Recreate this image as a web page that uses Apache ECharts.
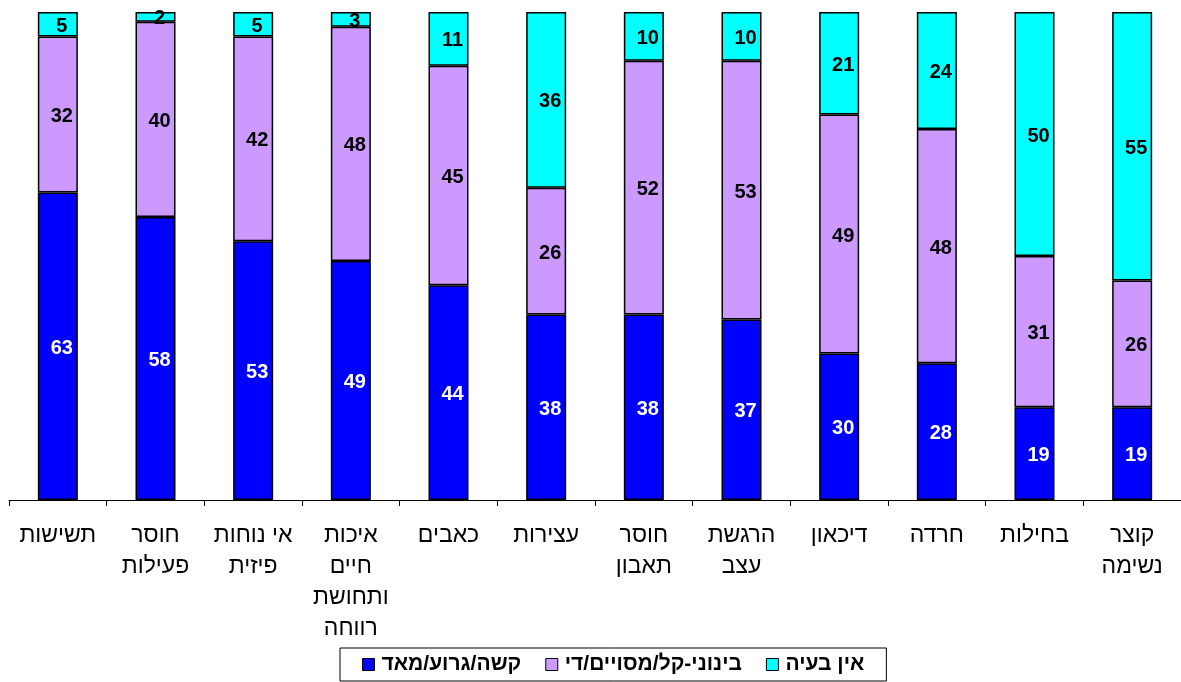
<!DOCTYPE html>
<html>
<head>
<meta charset="utf-8">
<script src="https://cdn.jsdelivr.net/npm/echarts@6/dist/echarts.min.js"></script>
<style>
  html, body { margin: 0; padding: 0; background: #fff; }
  #chart { width: 1181px; height: 682px; }
</style>
</head>
<body>
<div id="chart"></div>
<script>
// Symptom categories (left to right)
const categories = [
  'תשישות',
  'חוסר\nפעילות',
  'אי נוחות\nפיזית',
  'איכות\nחיים\nותחושת\nרווחה',
  'כאבים',
  'עצירות',
  'חוסר\nתאבון',
  'הרגשת\nעצב',
  'דיכאון',
  'חרדה',
  'בחילות',
  'קוצר\nנשימה'
];

// Series names
const seriesNames = ['קשה/גרוע/מאד', 'בינוני-קל/מסויים/די', 'אין בעיה'];

// Percentages per severity level
const severe   = [63, 58, 53, 49, 44, 38, 38, 37, 30, 28, 19, 19];
const moderate = [32, 40, 42, 48, 45, 26, 52, 53, 49, 48, 31, 26];
const none     = [5, 2, 5, 3, 11, 36, 10, 10, 21, 24, 50, 55];

const colors = ['#0000FF', '#CC99FF', '#00FFFF'];
const labelColors = ['#FFFFFF', '#000000', '#000000'];
const FONT = 'Arial, "Liberation Sans", sans-serif';

const chart = echarts.init(document.getElementById('chart'));

function makeSeries(name, data, i) {
  return {
    name: name,
    type: 'bar',
    stack: 'total',
    data: data,
    barWidth: 40,
    itemStyle: { color: colors[i], borderColor: '#000', borderWidth: 1.5 },
    label: {
      show: true,
      position: 'inside',
      offset: [4, 2],
      color: labelColors[i],
      fontFamily: FONT,
      fontWeight: 'bold',
      fontSize: 20
    },
    emphasis: { disabled: true }
  };
}

chart.setOption({
  animation: false,
  backgroundColor: '#fff',
  grid: { left: 9, top: 12, width: 1175, bottom: 182, containLabel: false },
  legend: {
    data: seriesNames,
    left: 340,
    top: 648,
    width: 600,
    itemWidth: 12,
    itemHeight: 12,
    itemGap: 24,
    padding: [6, 22, 6, 22],
    borderColor: '#000',
    borderWidth: 1,
    icon: 'rect',
    itemStyle: { borderColor: '#000', borderWidth: 1 },
    textStyle: { fontFamily: FONT, fontWeight: 'bold', fontSize: 21, color: '#000', padding: [0, 0, 0, 2] }
  },
  xAxis: {
    type: 'category',
    data: categories,
    axisLine: { lineStyle: { color: '#000', width: 1 } },
    axisTick: { show: true, length: 6, lineStyle: { color: '#000' } },
    axisLabel: {
      interval: 0,
      margin: 20,
      fontFamily: FONT,
      fontSize: 23,
      color: '#000',
      lineHeight: 31
    }
  },
  yAxis: {
    type: 'value',
    min: 0,
    max: 100,
    show: false
  },
  series: [
    makeSeries(seriesNames[0], severe, 0),
    makeSeries(seriesNames[1], moderate, 1),
    makeSeries(seriesNames[2], none, 2)
  ]
});
</script>
</body>
</html>
